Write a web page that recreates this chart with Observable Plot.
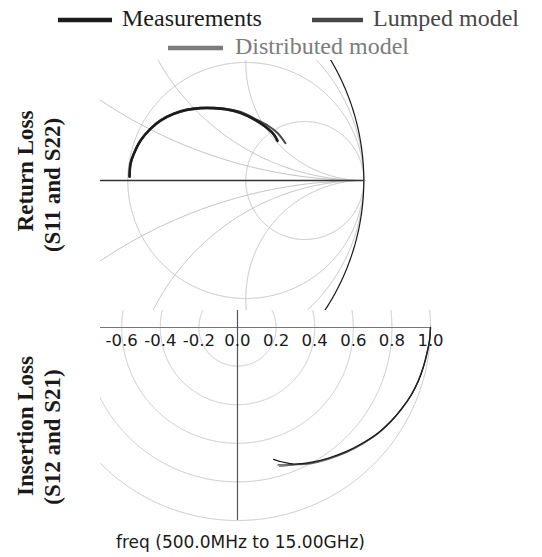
<!DOCTYPE html>
<html><head><meta charset="utf-8">
<script src="https://cdn.jsdelivr.net/npm/d3@7"></script>
<script src="https://cdn.jsdelivr.net/npm/@observablehq/plot@0.6"></script>
<style>
body{margin:0;background:#fff;}
#root{position:relative;width:542px;height:557px;overflow:hidden;background:#fff;}
#root > *{position:absolute;}
</style></head><body><div id="root"></div>
<script>
// ---- legend / series ----
const seriesNames = ["Measurements", "Lumped model", "Distributed model"];
const seriesColors = ["#1c1c1c", "#474747", "#7c7c7c"];

// ---- Smith chart grid values ----
const smithResistances = [0, 1, -1 / 3];
const smithReactances = [0.25, 0.5, 1, -0.25, -0.5, -1];
const smithBoundaryResistances = [-0.5];

// ---- Polar (S21) grid values ----
const polarRadii = [0.2, 0.4, 0.6, 0.8, 1.0];
const polarTicks = [-0.6, -0.4, -0.2, 0.0, 0.2, 0.4, 0.6, 0.8, 1.0];

// ---- S11 / S22 (reflection coefficient, real / imaginary) ----
const s11MeasRe = [-0.985, -0.977, -0.949, -0.892, -0.808, -0.723, -0.610, -0.497, -0.384, -0.271, -0.158, -0.045, 0.097, 0.181, 0.240, 0.269];
const s11MeasIm = [0.034, 0.142, 0.226, 0.339, 0.438, 0.508, 0.565, 0.599, 0.613, 0.613, 0.602, 0.573, 0.504, 0.445, 0.388, 0.336];
const s11LumpRe = [-0.985, -0.976, -0.948, -0.890, -0.806, -0.721, -0.608, -0.495, -0.382, -0.269, -0.156, -0.042, 0.097, 0.192, 0.269, 0.336];
const s11LumpIm = [0.030, 0.140, 0.226, 0.340, 0.440, 0.511, 0.568, 0.603, 0.617, 0.617, 0.606, 0.580, 0.513, 0.462, 0.403, 0.316];
const s11DistRe = [-0.987, -0.978, -0.950, -0.893, -0.809, -0.724, -0.611, -0.498, -0.385, -0.272, -0.159, -0.046, 0.095, 0.180, 0.238, 0.262];
const s11DistIm = [0.036, 0.143, 0.227, 0.337, 0.436, 0.506, 0.562, 0.596, 0.610, 0.610, 0.599, 0.570, 0.501, 0.442, 0.385, 0.343];

// ---- S21 / S12 (transmission coefficient, real / imaginary) ----
const s21MeasRe = [1.000, 0.995, 0.983, 0.964, 0.938, 0.902, 0.855, 0.798, 0.731, 0.653, 0.565, 0.472, 0.378, 0.285, 0.233, 0.187];
const s21MeasIm = [0.000, -0.067, -0.130, -0.202, -0.275, -0.347, -0.415, -0.482, -0.544, -0.596, -0.642, -0.676, -0.699, -0.707, -0.697, -0.683];
const s21LumpRe = [1.000, 0.995, 0.982, 0.963, 0.937, 0.900, 0.853, 0.796, 0.729, 0.651, 0.563, 0.471, 0.378, 0.285, 0.210];
const s21LumpIm = [0.000, -0.068, -0.131, -0.204, -0.277, -0.350, -0.418, -0.486, -0.548, -0.600, -0.646, -0.680, -0.703, -0.710, -0.712];
const s21DistRe = [1.000, 0.994, 0.981, 0.962, 0.935, 0.898, 0.851, 0.794, 0.727, 0.649, 0.562, 0.470, 0.378, 0.285, 0.218];
const s21DistIm = [0.000, -0.069, -0.133, -0.206, -0.279, -0.352, -0.421, -0.489, -0.551, -0.603, -0.649, -0.683, -0.706, -0.713, -0.720];

// ---- helpers ----
function circlePts(cx, cy, r, id) {
  const pts = [];
  const n = 1440;
  for (let i = 0; i <= n; i++) {
    const a = (i / n) * 2 * Math.PI;
    pts.push({x: cx + r * Math.cos(a), y: cy + r * Math.sin(a), id});
  }
  return pts;
}
const zip = (re, im) => re.map((v, i) => ({x: v, y: im[i]}));

// ---- Smith chart geometry (normalized, from grid values) ----
const smithGrid = [];
smithResistances.forEach(r => smithGrid.push(...circlePts(r / (1 + r), 0, 1 / (1 + r), "r" + r)));
smithReactances.forEach(x => smithGrid.push(...circlePts(1, 1 / x, 1 / Math.abs(x), "x" + x)));
const smithBlack = [];
smithBoundaryResistances.forEach(r => smithBlack.push(...circlePts(r / (1 + r), 0, 1 / (1 + r), "b" + r)));

const topX = [-1.2314, 1.0229], topY = [-1.1017, 1.0169];
const topPlot = Plot.plot({
  width: 266, height: 250, margin: 0,
  x: {domain: topX, axis: null},
  y: {domain: topY, axis: null},
  style: {background: "transparent", overflow: "hidden"},
  marks: [
    Plot.line(smithGrid, {x: "x", y: "y", z: "id", stroke: "#c2c2c2", strokeWidth: 1, clip: true}),
    Plot.line(smithBlack, {x: "x", y: "y", z: "id", stroke: "#1a1a1a", strokeWidth: 1.2, clip: true}),
    Plot.ruleY([0], {x1: topX[0], x2: 1, stroke: "#333", strokeWidth: 1.4}),
    Plot.line(zip(s11DistRe, s11DistIm), {x: "x", y: "y", stroke: seriesColors[2], strokeWidth: 2, curve: "catmull-rom"}),
    Plot.line(zip(s11LumpRe, s11LumpIm), {x: "x", y: "y", stroke: seriesColors[1], strokeWidth: 2, curve: "catmull-rom"}),
    Plot.line(zip(s11MeasRe, s11MeasIm), {x: "x", y: "y", stroke: seriesColors[0], strokeWidth: 2.6, curve: "catmull-rom"})
  ]
});
topPlot.style.left = "100px"; topPlot.style.top = "60px";

// ---- polar plot ----
const polarGrid = [];
polarRadii.forEach(r => polarGrid.push(...circlePts(0, 0, r, "p" + r)));
const botX = [-0.7098, 1.0777], botY = [-1.0104, 0.0881];
const botPlot = Plot.plot({
  width: 345, height: 212, margin: 0,
  x: {domain: botX, axis: null},
  y: {domain: botY, axis: null},
  style: {background: "transparent", overflow: "hidden"},
  marks: [
    Plot.line(polarGrid, {x: "x", y: "y", z: "id", stroke: "#c8c8c8", strokeWidth: 1, clip: true}),
    Plot.ruleY([0], {x1: botX[0], x2: d3.max(polarTicks), stroke: "#777", strokeWidth: 1.2}),
    Plot.ruleX([0], {y1: -d3.max(polarRadii), y2: botY[1], stroke: "#555", strokeWidth: 1.2}),
    Plot.text(polarTicks, {x: d => d, y: 0, text: d => d.toFixed(1), dy: 13, fontSize: 16.5, fontFamily: "DejaVu Sans", fill: "#1a1a1a"}),
    Plot.line(zip(s21DistRe, s21DistIm), {x: "x", y: "y", stroke: seriesColors[2], strokeWidth: 1.3, curve: "catmull-rom"}),
    Plot.line(zip(s21LumpRe, s21LumpIm), {x: "x", y: "y", stroke: seriesColors[1], strokeWidth: 1.3, curve: "catmull-rom"}),
    Plot.line(zip(s21MeasRe, s21MeasIm), {x: "x", y: "y", stroke: seriesColors[0], strokeWidth: 1.2, curve: "catmull-rom"})
  ]
});
botPlot.style.left = "100px"; botPlot.style.top = "310px";

// ---- overlay texts (legend, axis titles, caption) ----
const ns = "http://www.w3.org/2000/svg";
const ov = document.createElementNS(ns, "svg");
ov.setAttribute("width", 542); ov.setAttribute("height", 557);
ov.style.left = "0px"; ov.style.top = "0px";
function el(tag, attrs, text) {
  const e = document.createElementNS(ns, tag);
  for (const k in attrs) e.setAttribute(k, attrs[k]);
  if (text != null) e.textContent = text;
  ov.appendChild(e);
  return e;
}
const legendItems = [
  {sx: 58, sy: 20, sw: 54, tx: 122, ty: 26},
  {sx: 312, sy: 20, sw: 51, tx: 373, ty: 26},
  {sx: 168, sy: 48, sw: 55, tx: 235, ty: 54}
];
legendItems.forEach((p, i) => {
  el("line", {x1: p.sx, x2: p.sx + p.sw, y1: p.sy, y2: p.sy, stroke: seriesColors[i], "stroke-width": 4.5});
  el("text", {x: p.tx, y: p.ty, "font-family": "Liberation Serif", "font-size": 24, fill: seriesColors[i]}, seriesNames[i]);
});
const yTitles = [
  {t: "Return Loss", x: 33, y: 171},
  {t: "(S11 and S22)", x: 60, y: 185},
  {t: "Insertion Loss", x: 33, y: 426},
  {t: "(S12 and S21)", x: 60, y: 437}
];
yTitles.forEach(d => el("text", {transform: `translate(${d.x},${d.y}) rotate(-90)`, "text-anchor": "middle",
  "font-family": "Liberation Serif", "font-weight": "bold", "font-size": 23, fill: "#1a1a1a"}, d.t));
el("text", {x: 116, y: 548, "font-family": "DejaVu Sans", "font-size": 17, fill: "#1a1a1a"}, "freq (500.0MHz to 15.00GHz)");

const root = document.getElementById("root");
root.appendChild(ov);
root.appendChild(topPlot);
root.appendChild(botPlot);
</script></body></html>
